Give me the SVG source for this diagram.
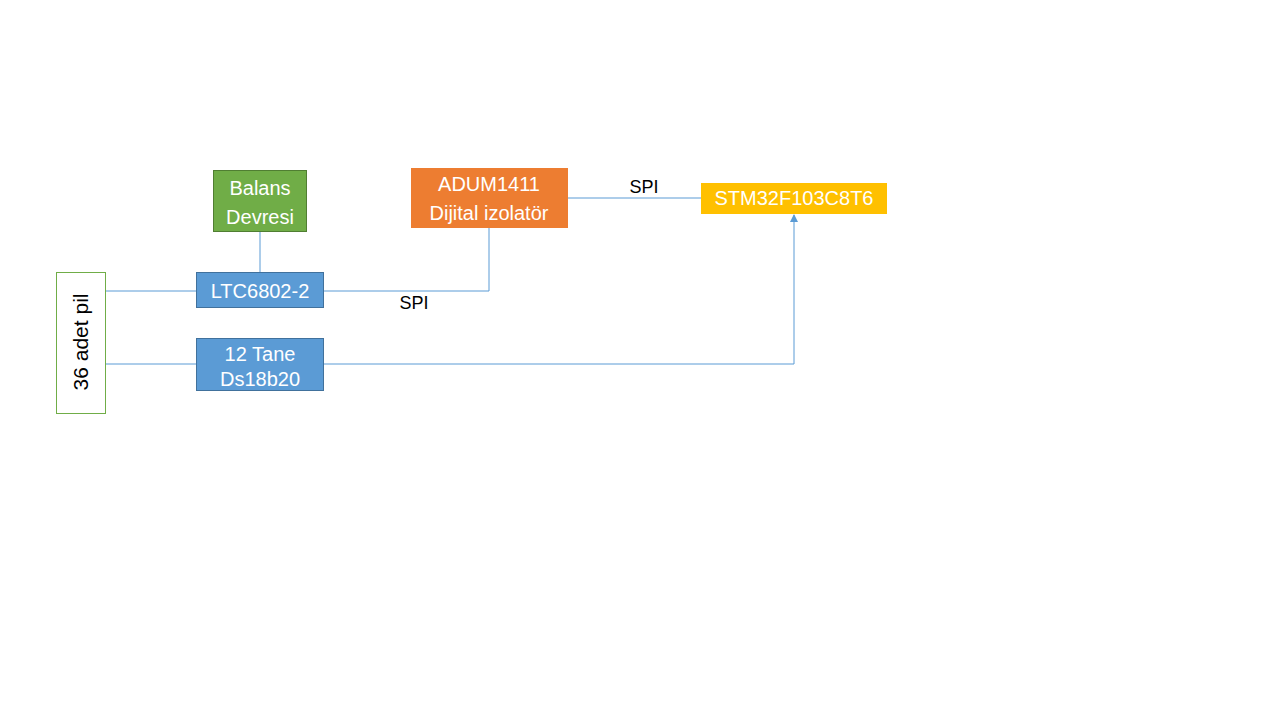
<svg xmlns="http://www.w3.org/2000/svg" width="1280" height="720" viewBox="0 0 1280 720">
<style>
text{font-family:"Liberation Sans",Arial,sans-serif;font-size:20px;text-anchor:middle}
.w{fill:#fff}
.k{fill:#000}
.s{font-size:18px}
.ln{stroke:#5B9BD5;stroke-width:1;fill:none}
.blue{fill:#5B9BD5;stroke:#41719C;stroke-width:1}
</style>
<defs>
<marker id="ah" markerWidth="8" markerHeight="8" refX="7" refY="4" orient="auto" markerUnits="userSpaceOnUse">
<path d="M0,0 L8,4 L0,8 z" fill="#5B9BD5"/>
</marker>
</defs>
<rect width="1280" height="720" fill="#fff"/>
<g id="connectors">
<line class="ln" x1="260" y1="231" x2="260" y2="272"/>
<line class="ln" x1="105" y1="291" x2="196" y2="291"/>
<line class="ln" x1="105" y1="364" x2="196" y2="364"/>
<polyline class="ln" points="323,291 489,291 489,227"/>
<line class="ln" x1="567" y1="198" x2="701" y2="198"/>
<polyline class="ln" points="323,364 794,364 794,215" marker-end="url(#ah)"/>
<text class="k s" x="414" y="309">SPI</text>
<text class="k s" x="644" y="193">SPI</text>
</g>
<g id="pil">
<rect x="56.5" y="272.5" width="49" height="141" fill="#fff" stroke="#70AD47"/>
<text class="k" style="font-size:21px" transform="translate(88,342) rotate(-90)">36 adet pil</text>
</g>
<g id="balans">
<rect x="213.5" y="170.5" width="93" height="61" fill="#70AD47" stroke="#507E32"/>
<text class="w" x="260" y="195">Balans</text>
<text class="w" x="260" y="224">Devresi</text>
</g>
<g id="ltc">
<rect class="blue" x="196.5" y="272.5" width="127" height="35"/>
<text class="w" x="260" y="298">LTC6802-2</text>
</g>
<g id="ds">
<rect class="blue" x="196.5" y="338.5" width="127" height="52"/>
<text class="w" x="260" y="361">12 Tane</text>
<text class="w" x="260" y="386">Ds18b20</text>
</g>
<g id="adum">
<rect x="411" y="168" width="157" height="60" fill="#ED7D31"/>
<text class="w" x="489" y="191">ADUM1411</text>
<text class="w" x="489" y="220">Dijital izolatör</text>
</g>
<g id="stm">
<rect x="701" y="183" width="186" height="31" fill="#FFC000"/>
<text class="w" x="794" y="205">STM32F103C8T6</text>
</g>
</svg>
